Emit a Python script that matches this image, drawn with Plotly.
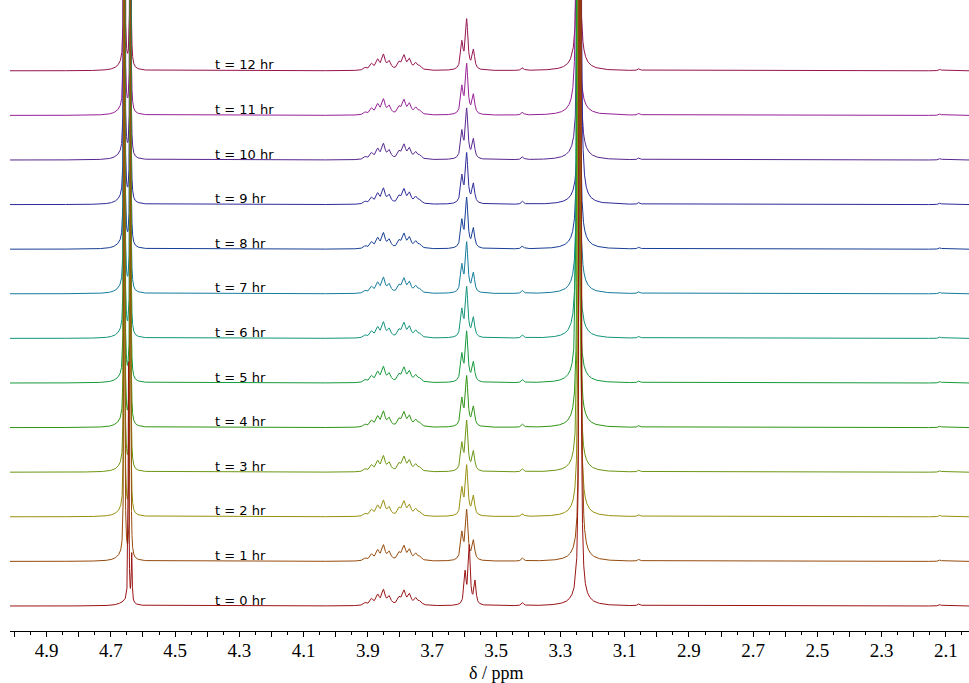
import numpy as np
import plotly.graph_objects as go

# ---------------- data ----------------
times = list(range(13))                      # hours
labels = ["t = %d hr" % t for t in times]
stack_offset = 44.6                          # vertical offset between spectra (intensity units)

# peaks present in every spectrum: position (ppm), height, half width (ppm)
common_ppm = [3.908, 3.888, 3.869, 3.851, 3.833, 3.802, 3.787, 3.770, 3.750, 3.737,
              3.418, 3.055, 2.946, 2.118]
common_h = [2.5, 6.0, 9.5, 14.5, 8.0, 7.0, 13.5, 10.0, 6.5, 3.5,
            3.0, 2.0, 0.6, 1.5]
common_w = [0.006, 0.006, 0.006, 0.006, 0.006, 0.006, 0.006, 0.006, 0.006, 0.006,
            0.004, 0.004, 0.004, 0.004]

# big singlet near 3.24 ppm (slight drift per spectrum)
big_ppm = [3.239, 3.238, 3.241, 3.243, 3.244, 3.246, 3.246, 3.244, 3.243, 3.239, 3.243, 3.247, 3.244]
big_h = 2500.0
big_w = 0.0013
big_base_h = 10.0
big_base_w = 0.025

# 4.65 and 3.6 groups: t = 0 spectrum
t0_ppm = [4.645, 4.635, 4.655, 3.597, 3.584, 3.566]
t0_h = [240.0, 48.0, 4.0, 31.0, 58.0, 23.0]
t0_w = [0.0012, 0.0015, 0.02, 0.0037, 0.0037, 0.0037]

# 4.65 and 3.6 groups: t >= 1 spectra
tn_ppm = [4.658, 4.639, 4.665, 3.607, 3.592, 3.571]
tn_h = [900.0, 650.0, 5.0, 26.0, 49.0, 19.0]
tn_w = [0.00093, 0.00093, 0.02, 0.0045, 0.0045, 0.0045]

tick_vals = [5.0, 4.9, 4.8, 4.7, 4.6, 4.5, 4.4, 4.3, 4.2, 4.1, 4.0, 3.9, 3.8, 3.7, 3.6,
             3.5, 3.4, 3.3, 3.2, 3.1, 3.0, 2.9, 2.8, 2.7, 2.6, 2.5, 2.4, 2.3, 2.2, 2.1]
tick_text = ["", "4.9", "", "4.7", "", "4.5", "", "4.3", "", "4.1", "", "3.9", "", "3.7", "",
             "3.5", "", "3.3", "", "3.1", "", "2.9", "", "2.7", "", "2.5", "", "2.3", "", "2.1"]

colors = ["#9a1414", "#964b0c", "#98900f", "#6c9612", "#2f9414", "#159a3c", "#12947a",
          "#157c9c", "#173f96", "#2d2a9a", "#56268f", "#962096", "#961450"]

x_min, x_max = 2.028, 5.014
SERIF = "Liberation Serif"

# ---------------- build ----------------
grid = np.concatenate([
    np.linspace(x_min, x_max, 7000),
    np.linspace(4.60, 4.70, 2500),
    np.linspace(3.21, 3.28, 2000),
])
grid = np.unique(grid)


def lor(x, c, h, w):
    return h * w * w / ((x - c) ** 2 + w * w)


fig = go.Figure()
for t in reversed(times):
    y = np.full_like(grid, t * stack_offset)
    for c, h, w in zip(common_ppm, common_h, common_w):
        y += lor(grid, c, h, w)
    y += lor(grid, big_ppm[t], big_h, big_w)
    y += lor(grid, big_ppm[t], big_base_h, big_base_w)
    pk = zip(t0_ppm, t0_h, t0_w) if t == 0 else zip(tn_ppm, tn_h, tn_w)
    for c, h, w in pk:
        y += lor(grid, c, h, w)
    fig.add_trace(go.Scatter(x=grid, y=y, mode="lines",
                             line=dict(color=colors[t], width=1),
                             hoverinfo="skip", showlegend=False))

annotations = []
for t in times:
    annotations.append(dict(x=4.382, y=t * stack_offset + 6, xref="x", yref="y",
                            text=labels[t], showarrow=False, xanchor="left", yanchor="middle",
                            font=dict(family="DejaVu Sans", size=13, color="#000000")))
annotations.append(dict(x=3.5, y=-0.066, xref="x", yref="paper", text="δ / ppm",
                        showarrow=False, xanchor="center", yanchor="middle",
                        font=dict(family=SERIF, size=18, color="#000000")))

fig.update_layout(
    width=969, height=683,
    margin=dict(l=10, r=0, t=0, b=52),
    paper_bgcolor="white", plot_bgcolor="white",
    annotations=annotations,
    xaxis=dict(range=[x_max, x_min], showgrid=False, zeroline=False,
               showline=True, linecolor="black", linewidth=1,
               ticks="outside", ticklen=5, tickcolor="black", tickwidth=1,
               tickmode="array", tickvals=tick_vals, ticktext=tick_text,
               ticklabelstandoff=-3,
               tickfont=dict(family=SERIF, size=19, color="black"),
               minor=dict(ticks="outside", ticklen=3, tickcolor="black", dtick=0.05, tick0=0,
                          showgrid=False)),
    yaxis=dict(range=[-25, 606], visible=False, showgrid=False, zeroline=False),
)

fig.write_html("out.html")
